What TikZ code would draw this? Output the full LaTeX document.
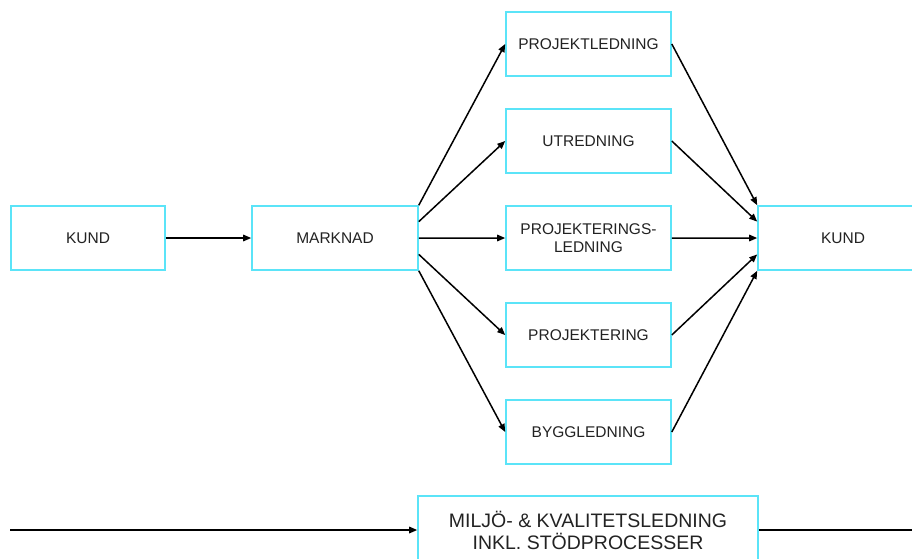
\documentclass[tikz,border=0pt]{standalone}
\usepackage{fontspec}
\setmainfont{Liberation Sans}
\usetikzlibrary{positioning, arrows.meta, calc}
\definecolor{boxcyan}{HTML}{5BE4F8}
\definecolor{txtgray}{HTML}{222222}

\begin{document}
\begin{tikzpicture}[x=1pt, y=-1pt, node distance=97pt, on grid, >={Triangle[length=8pt, width=6.5pt]},
    box/.style={draw=boxcyan, line width=1.6pt, minimum width=165pt, minimum height=64pt,
        inner sep=0pt, align=center, text=txtgray, font=\fontsize{15.5}{18}\selectfont},
    flow/.style={->, line width=1.5pt}]
    \useasboundingbox (0,0) rectangle (912,558);

    % Kund och marknad
    \node[box, minimum width=154pt] (kund1) at (88,238) {KUND};
    \node[box, minimum width=166pt] (marknad) [right=247pt of kund1] {MARKNAD};

    % Mittkolumnen
    \node[box] (prl) [right=253.5pt of marknad] {PROJEKTERINGS-\\LEDNING};
    \node[box] (utr) [above=of prl] {UTREDNING};
    \node[box] (projl) [above=of utr] {PROJEKTLEDNING};
    \node[box] (proj) [below=of prl] {PROJEKTERING};
    \node[box] (bygg) [below=of proj] {BYGGLEDNING};

    % Kund till höger, går utanför bilden
    \node[box, minimum width=170pt] (kund2) [right=254.5pt of prl] {KUND};

    % Stödprocesser nederst
    \node[box, minimum width=340pt, minimum height=68pt,
        font=\fontsize{19.5}{22}\selectfont] (milj) at (588,530)
        {MILJÖ- \& KVALITETSLEDNING\\INKL. STÖDPROCESSER};
    \coordinate (lstart) at (10,530);
    \coordinate (lend) at (930,530);

    \draw[flow] (kund1) -- (marknad);

    % Solfjädern ut och in
    \foreach \t/\k in {projl/0, utr/.25, prl/.5, proj/.75, bygg/1} {
        \draw[flow] ($(marknad.north east)!\k!(marknad.south east)$) -- (\t.west);
        \draw[flow] (\t.east) -- ($(kund2.north west)!\k!(kund2.south west)$);
    }

    \draw[flow] (lstart) -- (milj.west);
    \draw[line width=1.5pt] (milj.east) -- (lend);
\end{tikzpicture}
\end{document}
